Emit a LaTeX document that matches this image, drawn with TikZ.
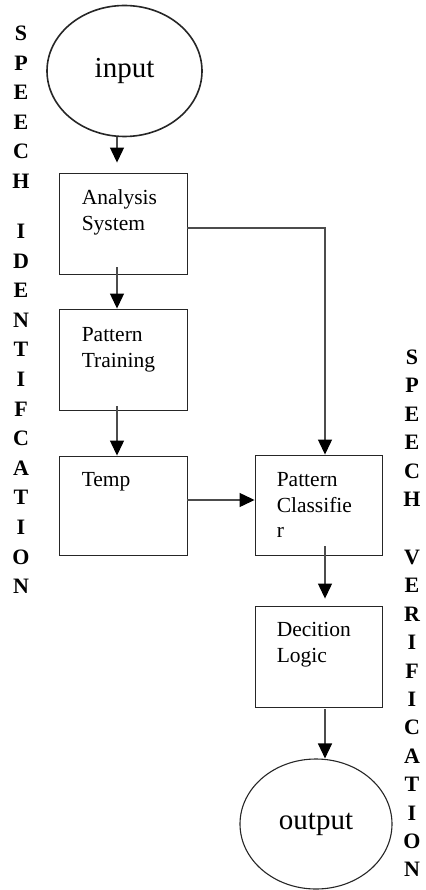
\documentclass[tikz,border=0pt]{standalone}
\usepackage{fontspec}
\setmainfont{Liberation Serif}
\usetikzlibrary{arrows.meta,calc,shapes.geometric}
\begin{document}
\begin{tikzpicture}[x=1pt,y=-1pt,
  stepbox/.style={draw=black!85, line width=0.9pt, minimum width=128pt, minimum height=101pt, inner sep=0pt},
  oval/.style={draw=black!85, ellipse, inner sep=0pt, font=\fontsize{29}{32}\selectfont},
  boxtext/.style={anchor=base west, inner sep=0pt, text width=110pt, align=left, font=\fontsize{21.5}{25.5}\selectfont},
  flow/.style={draw=black!70, line width=1.2pt, -{Triangle[width=14pt,length=15pt,color=black]}},
  column/.style={anchor=base, inner sep=0pt, text width=30pt, align=center}]
\useasboundingbox (0,0) rectangle (425,890);

% terminals
\node[oval, line width=1.6pt, minimum width=155pt, minimum height=131pt] (in) at (124.5,71) {input};
\node[oval, line width=1.1pt, minimum width=152pt, minimum height=130pt] (out) at (316,824) {output};

% processing blocks
\node[stepbox] (ana) at (123,223.5) {};
\node[stepbox] (pt)  at (123,359.5) {};
\node[stepbox, minimum height=99pt] (tmp) at (123,505.5) {};
\node[stepbox, minimum width=127pt, minimum height=100pt] (cls) at (318.5,505) {};
\node[stepbox, minimum width=127pt] (dec) at (318.5,656.5) {};

\node[boxtext] (anaT) at ($(ana.north west)+(23,32)$) {Analysis\\System};
\node[boxtext] (ptT)  at ($(pt.north west)+(23,33)$) {Pattern\\Training};
\node[boxtext] (tmpT) at ($(tmp.north west)+(23,31)$) {Temp};
\node[boxtext] (clsT) at ($(cls.north west)+(22,32)$) {Pattern\\Classifie\\r};
\node[boxtext] (decT) at ($(dec.north west)+(22,31)$) {Decition\\Logic};

% connectors
\draw[flow, shorten >=10pt] ([xshift=-7.5pt]in.south) -- ([xshift=-6pt]ana.north);
\draw[flow, shorten <=-7pt] ([xshift=-6pt]ana.south) -- ([xshift=-6pt]pt.north);
\draw[flow, shorten <=-4pt] ([xshift=-6pt]pt.south) -- ([xshift=-6pt]tmp.north);
\draw[flow] ([yshift=-4.5pt]ana.east) -| ([xshift=6.5pt]cls.north);
\draw[flow] ([yshift=5.5pt]tmp.east) -- ([yshift=5pt]cls.west);
\draw[flow, shorten <=-9pt, shorten >=7pt] ([xshift=6.5pt]cls.south) -- ([xshift=6.5pt]dec.north);
\draw[flow, shorten <=2pt] ([xshift=6.5pt]dec.south) -- ([xshift=9pt]out.north);

% side captions
\node[column, font=\fontsize{22}{29.6}\selectfont\bfseries] (leftcol) at (21,40.5)
  {S\\P\\E\\E\\C\\H\\[20.5pt]I\\D\\E\\N\\T\\I\\F\\C\\A\\T\\I\\O\\N};
\node[column, font=\fontsize{22}{28.4}\selectfont\bfseries] (rightcol) at (412,364.5)
  {S\\P\\E\\E\\C\\H\\[29.6pt]V\\E\\R\\I\\F\\I\\C\\A\\T\\I\\O\\N};
\end{tikzpicture}
\end{document}
